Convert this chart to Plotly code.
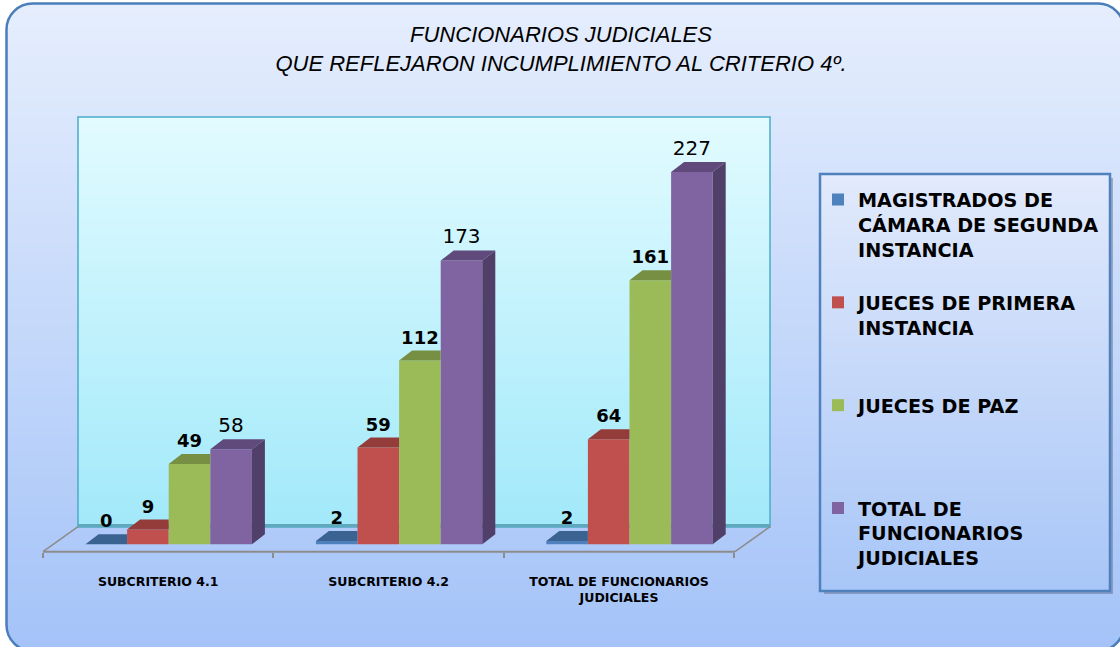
import struct, zlib, base64
import plotly.graph_objects as go

# ---------------- data ----------------
categories = ["SUBCRITERIO 4.1", "SUBCRITERIO 4.2", "TOTAL DE FUNCIONARIOS<br>JUDICIALES"]
magistrados_camara = [0, 2, 2]
jueces_primera_instancia = [9, 59, 64]
jueces_paz = [49, 112, 161]
total_funcionarios = [58, 173, 227]
series_names = [
    "MAGISTRADOS DE<br>CÁMARA DE SEGUNDA<br>INSTANCIA",
    "JUECES DE PRIMERA<br>INSTANCIA",
    "JUECES DE PAZ",
    "TOTAL DE<br>FUNCIONARIOS<br>JUDICIALES",
]
title_lines = ["FUNCIONARIOS JUDICIALES", "QUE REFLEJARON INCUMPLIMIENTO AL CRITERIO 4º."]

series_values = [magistrados_camara, jueces_primera_instancia, jueces_paz, total_funcionarios]

# ---------------- styles ----------------
front_colors = ["#4F81BD", "#C0504D", "#9BBB59", "#8064A2"]
top_colors = ["#3A6392", "#933C3A", "#768F42", "#5F4A7B"]
side_colors = ["#385D8A", "#8A3735", "#6F8838", "#503F69"]
label_bold = [True, True, True, False]

W, H = 1120, 647
PL, PR, PT, PB = 43, 771, 117, 552     # plot area in pixels
CAT_PX = 230.4                          # pixels per category
Y0_PX = 544.3                           # pixel of value 0 (front face)
Y_PX = 1.64                             # pixels per unit


def px2x(px):
    return -0.5 + (px - PL) / CAT_PX


def py2y(py):
    return (Y0_PX - py) / Y_PX


def px2p(px):
    return (px - PL) / (PR - PL)


def py2p(py):
    return (PB - py) / (PB - PT)


x_range = [px2x(PL), px2x(PR)]
y_range = [py2y(PB), py2y(PT)]

n_series = len(series_values)
shift = 10.5 / CAT_PX
bar_w = 41.6 / CAT_PX
bargap = 1 - n_series * bar_w
ddx = 13 / CAT_PX
ddy = 10 / Y_PX
label_lift = 2.5 / Y_PX


def gradient_uri(top, bottom, n=128):
    rows = b""
    for k in range(n):
        t = k / (n - 1)
        rows += b"\x00" + bytes(round(a + (b - a) * t) for a, b in zip(top, bottom))

    def chunk(tag, data):
        return (struct.pack(">I", len(data)) + tag + data
                + struct.pack(">I", zlib.crc32(tag + data) & 0xFFFFFFFF))

    png = (b"\x89PNG\r\n\x1a\n"
           + chunk(b"IHDR", struct.pack(">IIBBBBB", 1, n, 8, 2, 0, 0, 0))
           + chunk(b"IDAT", zlib.compress(rows))
           + chunk(b"IEND", b""))
    return "data:image/png;base64," + base64.b64encode(png).decode()


def image(src, x0, y0, x1, y1):
    return dict(source=src, xref="paper", yref="paper",
                x=px2p(x0), y=py2p(y0), sizex=px2p(x1) - px2p(x0), sizey=py2p(y0) - py2p(y1),
                xanchor="left", yanchor="top", sizing="stretch", layer="below")


def P(px, py):
    return f"{px2p(px):.6f},{py2p(py):.6f}"


def rounded_rect_path(x0, y0, x1, y1, r):
    k = 0.5523 * r
    return (f"M{P(x0 + r, y0)} L{P(x1 - r, y0)} C{P(x1 - r + k, y0)} {P(x1, y0 + r - k)} {P(x1, y0 + r)} "
            f"L{P(x1, y1 - r)} C{P(x1, y1 - r + k)} {P(x1 - r + k, y1)} {P(x1 - r, y1)} "
            f"L{P(x0 + r, y1)} C{P(x0 + r - k, y1)} {P(x0, y1 - r + k)} {P(x0, y1 - r)} "
            f"L{P(x0, y0 + r)} C{P(x0, y0 + r - k)} {P(x0 + r - k, y0)} {P(x0 + r, y0)} Z")


def corner_masks(x0, y0, x1, y1, r):
    k = 0.5523 * r
    e = 12
    paths = [
        f"M{P(x0 - e, y0 - e)} L{P(x0 + r, y0 - e)} L{P(x0 + r, y0)} C{P(x0 + r - k, y0)} {P(x0, y0 + r - k)} {P(x0, y0 + r)} L{P(x0 - e, y0 + r)} Z",
        f"M{P(x1 + e, y0 - e)} L{P(x1 - r, y0 - e)} L{P(x1 - r, y0)} C{P(x1 - r + k, y0)} {P(x1, y0 + r - k)} {P(x1, y0 + r)} L{P(x1 + e, y0 + r)} Z",
        f"M{P(x0 - e, y1 + e)} L{P(x0 + r, y1 + e)} L{P(x0 + r, y1)} C{P(x0 + r - k, y1)} {P(x0, y1 - r + k)} {P(x0, y1 - r)} L{P(x0 - e, y1 - r)} Z",
        f"M{P(x1 + e, y1 + e)} L{P(x1 - r, y1 + e)} L{P(x1 - r, y1)} C{P(x1 - r + k, y1)} {P(x1, y1 - r + k)} {P(x1, y1 - r)} L{P(x1 + e, y1 - r)} Z",
    ]
    return [dict(type="path", xref="paper", yref="paper", path=p, fillcolor="white",
                 line=dict(width=0), layer="below") for p in paths]


def line(x0, y0, x1, y1, color, width):
    return dict(type="line", xref="paper", yref="paper", x0=px2p(x0), y0=py2p(y0),
                x1=px2p(x1), y1=py2p(y1), line=dict(color=color, width=width), layer="below")


fig = go.Figure()

# front faces (bars)
cat_pos = [i + shift for i in range(len(categories))]
for j, (name, vals) in enumerate(zip(series_names, series_values)):
    pad = 4 - name.count("<br>") - 1
    fig.add_trace(go.Bar(
        x=cat_pos, y=vals, name=name + "<br> " * pad,
        marker=dict(color=front_colors[j], line=dict(width=0)),
        hoverinfo="y",
    ))

# 3D tops and sides, computed from the same values
for j, vals in enumerate(series_values):
    tx, ty, sx, sy = [], [], [], []
    for i, v in enumerate(vals):
        xc = cat_pos[i] + (j - (n_series - 1) / 2) * bar_w
        x0, x1 = xc - bar_w / 2, xc + bar_w / 2
        nxt = series_values[j + 1][i] if j + 1 < n_series else None
        hidden = nxt is not None and nxt >= v + ddy
        if hidden:
            tx += [x0, x1, x1, x0 + ddx, x0, None]
            ty += [v, v, v + ddy, v + ddy, v, None]
        else:
            tx += [x0, x1, x1 + ddx, x0 + ddx, x0, None]
            ty += [v, v, v + ddy, v + ddy, v, None]
            sx += [x1, x1 + ddx, x1 + ddx, x1, x1, None]
            sy += [0, ddy, v + ddy, v, 0, None]
    fig.add_trace(go.Scatter(x=tx, y=ty, fill="toself", fillcolor=top_colors[j], mode="lines",
                             line=dict(width=0, color=top_colors[j]), hoverinfo="skip", showlegend=False))
    if sx:
        fig.add_trace(go.Scatter(x=sx, y=sy, fill="toself", fillcolor=side_colors[j], mode="lines",
                                 line=dict(width=0, color=side_colors[j]), hoverinfo="skip", showlegend=False))

# value labels
for j, vals in enumerate(series_values):
    xs = [cat_pos[i] + (j - (n_series - 1) / 2) * bar_w for i in range(len(vals))]
    fig.add_trace(go.Scatter(
        x=xs, y=[v + ddy + label_lift for v in vals], mode="text", text=[str(v) for v in vals],
        textposition="top center", cliponaxis=False, hoverinfo="skip", showlegend=False,
        textfont=dict(family="DejaVu Sans", size=18 if label_bold[j] else 20,
                      weight="bold" if label_bold[j] else "normal", color="black"),
    ))

# decorations
BX0, BY0, BX1, BY1, BR = 6.5, 3.5, 1124, 651, 26
LX0, LY0, LX1, LY1 = 820, 174, 1110, 591
images = [
    image(gradient_uri((230, 238, 253), (164, 195, 248)), BX0, BY0, BX1, BY1),
    image(gradient_uri((226, 251, 255), (162, 233, 250)), 78, 117, 770, 527),
    image(gradient_uri((226, 234, 252), (168, 198, 247)), LX0, LY0, LX1, LY1),
]
shapes = corner_masks(BX0, BY0, BX1, BY1, BR)
shapes += [
    dict(type="path", xref="paper", yref="paper", path=rounded_rect_path(BX0, BY0, BX1, BY1, BR),
         line=dict(color="#4A7EBB", width=2.5), layer="below"),
    # back wall
    dict(type="rect", xref="paper", yref="paper", x0=px2p(78), y0=py2p(527), x1=px2p(770), y1=py2p(117),
         line=dict(color="#4BACC6", width=1.5), layer="below"),
    line(78, 525.5, 770, 525.5, "#62A8BC", 3),
    # floor
    line(43, 551.7, 735, 551.7, "#8C8C8C", 2),
    line(43, 551.7, 78, 526.7, "#8C8C8C", 1.5),
    line(735, 551.7, 770, 526.7, "#8C8C8C", 1.5),
    # legend box shadow and border
    dict(type="rect", xref="paper", yref="paper", x0=px2p(LX1), y0=py2p(LY1 + 3), x1=px2p(LX1 + 3), y1=py2p(LY0 + 4),
         line=dict(width=0), fillcolor="rgba(90,100,130,0.45)", layer="below"),
    dict(type="rect", xref="paper", yref="paper", x0=px2p(LX0 + 4), y0=py2p(LY1 + 3), x1=px2p(LX1), y1=py2p(LY1),
         line=dict(width=0), fillcolor="rgba(90,100,130,0.45)", layer="below"),
    dict(type="rect", xref="paper", yref="paper", x0=px2p(LX0), y0=py2p(LY1), x1=px2p(LX1), y1=py2p(LY0),
         line=dict(color="#4F81BD", width=2.5), layer="below"),
]

fig.update_layout(
    width=W, height=H,
    margin=dict(l=PL, r=W - PR, t=PT, b=H - PB, pad=0),
    paper_bgcolor="white", plot_bgcolor="rgba(0,0,0,0)",
    barmode="group", bargap=bargap, bargroupgap=0,
    images=images, shapes=shapes,
    title=dict(text="<br>".join(title_lines), xref="container", yref="container",
               x=561 / W, xanchor="center", y=1 - 42 / H, yanchor="top",
               font=dict(family="Liberation Sans Narrow, Arial Narrow, Liberation Sans", size=22,
                         style="italic", color="black")),
    legend=dict(xref="paper", yref="paper", x=px2p(818), y=py2p(180.5),
                xanchor="left", yanchor="top", bgcolor="rgba(0,0,0,0)", borderwidth=0,
                valign="top", traceorder="normal",
                font=dict(family="DejaVu Sans", size=19.2, weight="bold", color="black")),
    xaxis=dict(range=x_range, tickmode="array", tickvals=list(range(len(categories))),
               ticktext=categories, ticks="", showline=False, showgrid=False, zeroline=False,
               ticklabelstandoff=20,
               tickfont=dict(family="DejaVu Sans", size=12.5, weight="bold", color="black"),
               minor=dict(tickmode="array", tickvals=[k - 0.5 for k in range(len(categories) + 1)],
                          ticks="outside", ticklen=5, tickwidth=2, tickcolor="#8C8C8C", showgrid=False)),
    yaxis=dict(range=y_range, visible=False, showgrid=False, zeroline=False),
    showlegend=True,
)

fig.write_html("out.html", config={"displayModeBar": False},
               post_script="document.body.style.margin='0px';")
